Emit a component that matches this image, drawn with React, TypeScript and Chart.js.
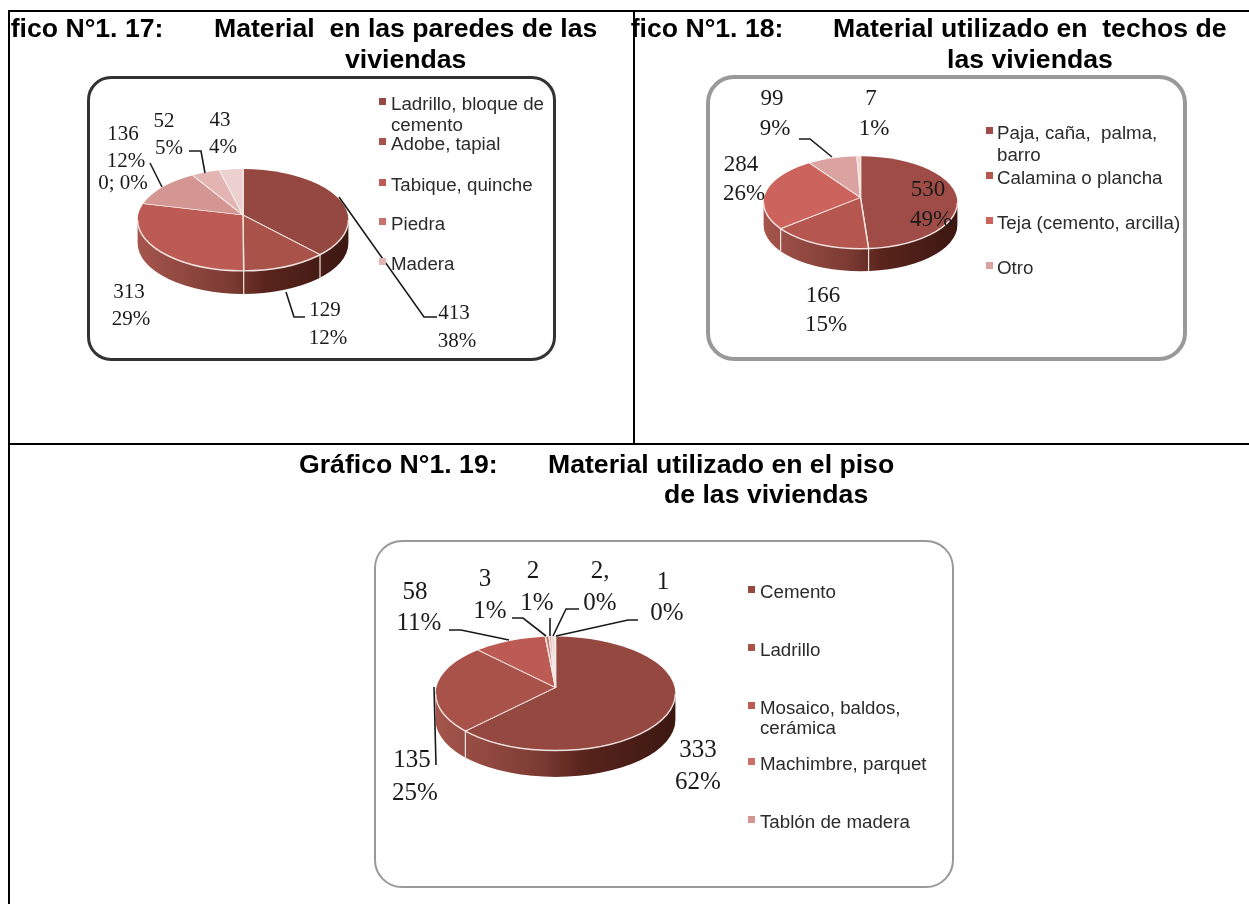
import React, { useEffect, useRef } from "react";
import { Chart, registerables } from "chart.js";

Chart.register(...registerables);

// ---------- data ----------
const wallCategories = ["Ladrillo, bloque de cemento", "Adobe, tapial", "Tabique, quinche", "Piedra", "Sin nombre A", "Sin nombre B", "Madera"];
const wallValues = [413, 129, 313, 0, 136, 52, 43];
const wallValueLabels = ["413", "129", "313", "136", "52", "43"];
const wallPercentLabels = ["38%", "12%", "29%", "12%", "5%", "4%"];
const wallZeroLabel = "0; 0%";

const roofCategories = ["Paja, caña,  palma, barro", "Calamina o plancha", "Teja (cemento, arcilla)", "Otro", "Sin nombre"];
const roofValues = [530, 166, 284, 99, 7];
const roofValueLabels = ["530", "166", "284", "99", "7"];
const roofPercentLabels = ["49%", "15%", "26%", "9%", "1%"];

const floorCategories = ["Cemento", "Ladrillo", "Mosaico, baldos, cerámica", "Machimbre, parquet", "Tablón de madera", "Sin nombre A", "Sin nombre B"];
const floorValues = [333, 135, 58, 3, 2, 2, 1];
const floorValueLabels = ["333", "135", "58", "3", "2", "2,", "1"];
const floorPercentLabels = ["62%", "25%", "11%", "1%", "1%", "0%", "0%"];

// ---------- styles / layout ----------
const wallColors = ["#954840", "#A8524A", "#BC5B53", "#C9726B", "#D39693", "#E2B5B3", "#EBD0CF"];
const roofColors = ["#A04C46", "#B5564F", "#CC635C", "#DBA3A0", "#EDD0CE"];
const floorColors = ["#954840", "#A8524A", "#BC5B53", "#C9726B", "#D39693", "#E2B5B3", "#EBD0CF"];

type P = [number, number];
type Cfg = {
  name: string;
  cats: string[];
  vals: number[];
  colors: string[];
  cx: number; cy: number; rx: number; k: number; depth: number; apexOff: number;
  frame: { x: number; y: number; w: number; h: number; color: string; bw: number; r: number };
  labels: { t: string; x: number; y: number }[];
  fs: number;
  leaders: P[][];
  legend: { t: string; y: number; c?: string }[];
  legendMarkX: number; legendTextX: number; legendFs: number;
};

const wallCfg: Cfg = {
  name: "paredes", cats: wallCategories, vals: wallValues, colors: wallColors,
  cx: 243, cy: 220, rx: 106, k: 0.483, depth: 23, apexOff: 5,
  frame: { x: 87, y: 76, w: 469, h: 285, color: "#333", bw: 3, r: 24 },
  fs: 21,
  labels: [
    { t: wallValueLabels[0], x: 454, y: 312 }, { t: wallPercentLabels[0], x: 457, y: 340 },
    { t: wallValueLabels[1], x: 325, y: 309 }, { t: wallPercentLabels[1], x: 328, y: 337 },
    { t: wallValueLabels[2], x: 129, y: 291 }, { t: wallPercentLabels[2], x: 131, y: 318 },
    { t: wallValueLabels[3], x: 123, y: 133 }, { t: wallPercentLabels[3], x: 126, y: 160 },
    { t: wallZeroLabel, x: 123, y: 182 },
    { t: wallValueLabels[4], x: 164, y: 120 }, { t: wallPercentLabels[4], x: 169, y: 147 },
    { t: wallValueLabels[5], x: 220, y: 119 }, { t: wallPercentLabels[5], x: 223, y: 146 },
  ],
  leaders: [
    [[339, 197], [424, 317], [437, 317]],
    [[286, 292], [294, 317], [305, 317]],
    [[150, 163], [162, 187]],
    [[189, 151], [201, 151], [205, 173]],
  ],
  legend: [
    { t: "Ladrillo, bloque de", y: 105, c: wallColors[0] }, { t: "cemento", y: 126 },
    { t: wallCategories[1], y: 145, c: wallColors[1] },
    { t: wallCategories[2], y: 186, c: wallColors[2] },
    { t: wallCategories[3], y: 225, c: wallColors[3] },
    { t: wallCategories[6], y: 265, c: wallColors[5] },
  ],
  legendMarkX: 379, legendTextX: 391, legendFs: 17.5,
};

const roofCfg: Cfg = {
  name: "techos", cats: roofCategories, vals: roofValues, colors: roofColors,
  cx: 860, cy: 202, rx: 97.5, k: 0.477, depth: 22.5, apexOff: 5,
  frame: { x: 706, y: 75, w: 481, h: 286, color: "#999", bw: 4, r: 28 },
  fs: 23,
  labels: [
    { t: roofValueLabels[0], x: 928, y: 188 }, { t: roofPercentLabels[0], x: 931, y: 218 },
    { t: roofValueLabels[1], x: 823, y: 294 }, { t: roofPercentLabels[1], x: 826, y: 323 },
    { t: roofValueLabels[2], x: 741, y: 163 }, { t: roofPercentLabels[2], x: 744, y: 192 },
    { t: roofValueLabels[3], x: 772, y: 97 }, { t: roofPercentLabels[3], x: 775, y: 127 },
    { t: roofValueLabels[4], x: 871, y: 97 }, { t: roofPercentLabels[4], x: 874, y: 127 },
  ],
  leaders: [[[799, 139], [810, 139], [832, 157]]],
  legend: [
    { t: "Paja, caña,  palma,", y: 134, c: roofColors[0] }, { t: "barro", y: 156 },
    { t: roofCategories[1], y: 179, c: roofColors[1] },
    { t: roofCategories[2], y: 224, c: roofColors[2] },
    { t: roofCategories[3], y: 269, c: roofColors[3] },
  ],
  legendMarkX: 986, legendTextX: 997, legendFs: 17.5,
};

const floorCfg: Cfg = {
  name: "piso", cats: floorCategories, vals: floorValues, colors: floorColors,
  cx: 555.5, cy: 693.5, rx: 120.5, k: 0.475, depth: 26.5, apexOff: 6,
  frame: { x: 374, y: 540, w: 580, h: 348, color: "#999", bw: 2, r: 28 },
  fs: 25,
  labels: [
    { t: floorValueLabels[0], x: 698, y: 748 }, { t: floorPercentLabels[0], x: 698, y: 780 },
    { t: floorValueLabels[1], x: 412, y: 758 }, { t: floorPercentLabels[1], x: 415, y: 791 },
    { t: floorValueLabels[2], x: 415, y: 590 }, { t: floorPercentLabels[2], x: 419, y: 621 },
    { t: floorValueLabels[3], x: 485, y: 577 }, { t: floorPercentLabels[3], x: 490, y: 609 },
    { t: floorValueLabels[4], x: 533, y: 569 }, { t: floorPercentLabels[4], x: 537, y: 601 },
    { t: floorValueLabels[5], x: 600, y: 569 }, { t: floorPercentLabels[5], x: 600, y: 601 },
    { t: floorValueLabels[6], x: 663, y: 580 }, { t: floorPercentLabels[6], x: 667, y: 611 },
  ],
  leaders: [
    [[434, 687], [436, 765]],
    [[449, 630], [461, 630], [509, 640]],
    [[512, 618], [523, 618], [546, 636]],
    [[550, 618], [550, 636]],
    [[579, 609], [566, 609], [553, 636]],
    [[638, 620], [628, 620], [556, 636]],
  ],
  legend: [
    { t: floorCategories[0], y: 593, c: floorColors[0] },
    { t: floorCategories[1], y: 651, c: floorColors[1] },
    { t: "Mosaico, baldos,", y: 709, c: floorColors[2] }, { t: "cerámica", y: 729 },
    { t: floorCategories[3], y: 765, c: floorColors[3] },
    { t: floorCategories[4], y: 823, c: floorColors[4] },
  ],
  legendMarkX: 748, legendTextX: 760, legendFs: 17.5,
};

const configs = [wallCfg, roofCfg, floorCfg];

// Pseudo-3D: flatten the pie around an apex that sits above the ellipse centre (perspective),
// clip it to the top face, and draw the wall below it from the arc elements themselves.
const OVERSCAN = 1.2;
const tiltPlugin = (k: number, depth: number, apexOff: number) => ({
  id: "tilt",
  beforeDatasetsDraw(chart: any) {
    const ctx = chart.ctx;
    const arcs = chart.getDatasetMeta(0).data;
    if (!arcs.length) return;
    const { x, y, outerRadius: R } = arcs[0];
    const g = ctx.createLinearGradient(x - R, 0, x + R, 0);
    g.addColorStop(0, "#A5554C");
    g.addColorStop(0.45, "#7A3A32");
    g.addColorStop(0.6, "#5A251D");
    g.addColorStop(1, "#3C1711");
    ctx.save();
    ctx.fillStyle = g;
    ctx.beginPath();
    ctx.ellipse(x, y, R, R * k, 0, 0, Math.PI);
    ctx.ellipse(x, y + depth, R, R * k, 0, Math.PI, 0, true);
    ctx.closePath();
    ctx.fill();
    ctx.strokeStyle = "#F4E8E6";
    ctx.lineWidth = 1.2;
    const o = apexOff / (R * k);
    for (const a of arcs) {
      const s = a.startAngle;
      const c = Math.cos(s);
      const b = Math.sin(s);
      const t = b * o + Math.sqrt(b * b * o * o - o * o + 1);
      const ux = c * t;
      const uy = b * t - o;
      if (uy > 0.02) {
        const px = x + R * ux;
        const py = y + R * k * uy;
        ctx.beginPath();
        ctx.moveTo(px, py);
        ctx.lineTo(px, py + depth);
        ctx.stroke();
      }
    }
    ctx.restore();
    ctx.save();
    ctx.beginPath();
    ctx.ellipse(x, y, R, R * k, 0, 0, Math.PI * 2);
    ctx.clip();
    ctx.translate(x, y - apexOff);
    ctx.scale(OVERSCAN, k * OVERSCAN);
    ctx.translate(-x, -y);
  },
  afterDatasetsDraw(chart: any) {
    const ctx = chart.ctx;
    ctx.restore();
    const arcs = chart.getDatasetMeta(0).data;
    if (!arcs.length) return;
    const { x, y, outerRadius: R } = arcs[0];
    ctx.save();
    ctx.strokeStyle = "rgba(250,240,238,0.9)";
    ctx.lineWidth = 1.4;
    ctx.beginPath();
    ctx.ellipse(x, y, R, R * k, 0, 0, Math.PI);
    ctx.stroke();
    ctx.restore();
  },
});

function Pie({ cfg }: { cfg: Cfg }) {
  const ref = useRef<HTMLCanvasElement>(null);
  useEffect(() => {
    const chart = new Chart(ref.current as HTMLCanvasElement, {
      type: "pie",
      data: {
        labels: cfg.cats,
        datasets: [{ data: cfg.vals, backgroundColor: cfg.colors, borderColor: "#F4E8E6", borderWidth: 1.2 }],
      },
      options: {
        animation: false,
        responsive: false,
        layout: { padding: 4 },
        plugins: { legend: { display: false }, tooltip: { enabled: false } },
      },
      plugins: [tiltPlugin(cfg.k, cfg.depth, cfg.apexOff)],
    } as any);
    return () => chart.destroy();
  }, [cfg]);
  const size = Math.round(cfg.rx * 2 + 8);
  const f = cfg.frame;
  return (
    <>
      <div
        style={{
          position: "absolute", left: f.x, top: f.y, width: f.w, height: f.h, boxSizing: "border-box",
          border: `${f.bw}px solid ${f.color}`, borderRadius: f.r, background: "#fff",
        }}
      />
      <canvas
        ref={ref}
        width={size}
        height={size}
        style={{ position: "absolute", left: cfg.cx - size / 2, top: cfg.cy - size / 2, width: size, height: size }}
      />
      <svg style={{ position: "absolute", left: 0, top: 0 }} width={1249} height={904}>
        {cfg.leaders.map((l, i) => (
          <polyline key={i} points={l.map((p) => p.join(",")).join(" ")} fill="none" stroke="#1a1a1a" strokeWidth={1.6} />
        ))}
      </svg>
      {cfg.labels.map((l, i) => (
        <div
          key={i}
          style={{
            position: "absolute", left: l.x, top: l.y, transform: "translate(-50%,-50%)", whiteSpace: "pre",
            font: `${cfg.fs}px "Liberation Serif", serif`, lineHeight: 1, color: "#1a1a1a",
          }}
        >
          {l.t}
        </div>
      ))}
      {cfg.legend.map((l, i) => (
        <React.Fragment key={i}>
          {l.c && (
            <div style={{ position: "absolute", left: cfg.legendMarkX, top: l.y - 7, width: 7, height: 7, background: l.c }} />
          )}
          <div
            style={{
              position: "absolute", left: cfg.legendTextX, top: l.y, transform: "translateY(-50%) scaleX(1.07)",
              transformOrigin: "left center", whiteSpace: "pre",
              font: `${cfg.legendFs}px "Liberation Sans", sans-serif`, lineHeight: 1, color: "#2b2b2b",
            }}
          >
            {l.t}
          </div>
        </React.Fragment>
      ))}
    </>
  );
}

const titleStyle: React.CSSProperties = {
  position: "absolute", whiteSpace: "pre", font: 'bold 25px "Liberation Sans", sans-serif', lineHeight: 1,
  color: "#000", transform: "translateY(-50%) scaleX(1.065)", transformOrigin: "left center",
};
const titleStyleEnd: React.CSSProperties = { ...titleStyle, transformOrigin: "right center" };
const line = (x: number, y: number, w: number, h: number) => (
  <div style={{ position: "absolute", left: x, top: y, width: w, height: h, background: "#000" }} />
);

export default function App() {
  return (
    <div style={{ position: "absolute", left: 0, top: 0, width: 1249, height: 904, overflow: "hidden", background: "#fff" }}>
      {configs.map((c) => (
        <Pie key={c.name} cfg={c} />
      ))}
      <span style={{ ...titleStyleEnd, right: 1249 - 163, top: 28 }}>fico N°1. 17:</span>
      <span style={{ ...titleStyle, left: 214, top: 28 }}>Material  en las paredes de las</span>
      <span style={{ ...titleStyle, left: 345, top: 59 }}>viviendas</span>
      <span style={{ ...titleStyleEnd, right: 1249 - 783, top: 28 }}>fico N°1. 18:</span>
      <span style={{ ...titleStyle, left: 833, top: 28 }}>Material utilizado en  techos de</span>
      <span style={{ ...titleStyle, left: 947, top: 59 }}>las viviendas</span>
      <span style={{ ...titleStyle, left: 299, top: 464 }}>Gráfico N°1. 19:</span>
      <span style={{ ...titleStyle, left: 548, top: 464 }}>Material utilizado en el piso</span>
      <span style={{ ...titleStyle, left: 664, top: 494 }}>de las viviendas</span>
      {line(8, 10, 1241, 2)}
      {line(8, 10, 2, 894)}
      {line(633, 10, 2, 434)}
      {line(8, 443, 1241, 2)}
    </div>
  );
}
